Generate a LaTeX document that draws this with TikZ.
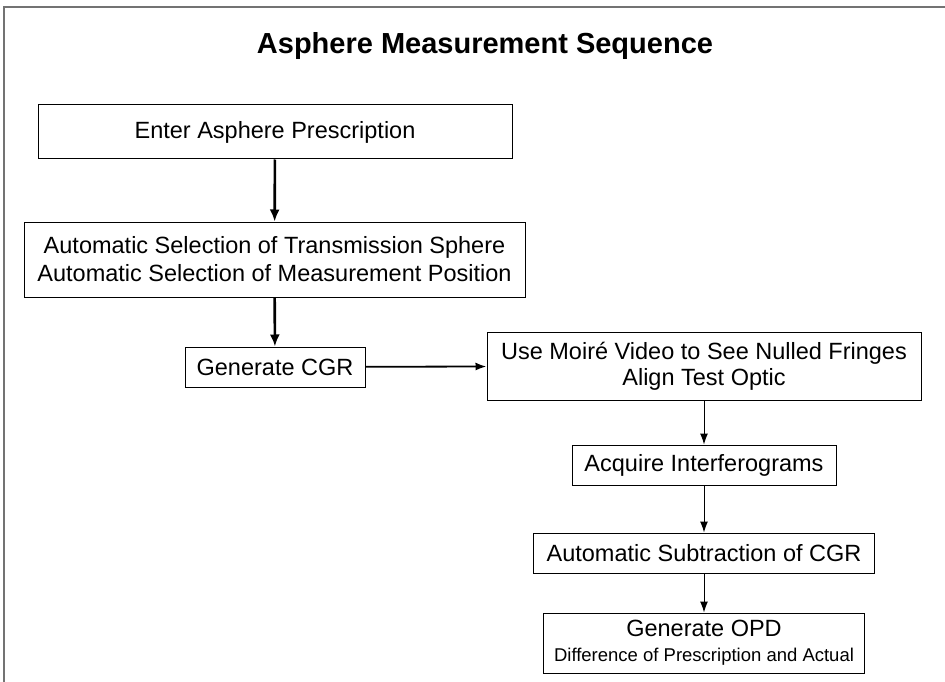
\documentclass[tikz,border=0pt]{standalone}
\usepackage{fontspec}
\setmainfont{Liberation Sans}
\usepackage{tikz}
\usetikzlibrary{arrows,arrows.meta}
\usetikzlibrary{positioning}
\definecolor{framegray}{rgb}{0.45, 0.45, 0.45}

\tikzset{
  stepbox/.style={draw, line width=1pt, align=center, inner sep=0pt, font=\fontsize{23.5}{28}\selectfont},
  flow/.style={-{Latex[length=11pt, width=8pt]}, line width=1pt},
  boldflow/.style={-{Latex[length=12pt, width=10pt]}, line width=2.6pt}
}

\begin{document}
\begin{tikzpicture}[x=1pt, y=-1pt]
            \useasboundingbox (0,0) rectangle (945,682);
            \draw [framegray, line width=2pt] (4,682) -- (4,7) -- (945,7);
            \node (title) at (485,46) {\fontsize{29}{32}\selectfont\bfseries Asphere Measurement Sequence};
            \node [stepbox, minimum width=474, minimum height=54] (enter) at (275,132) {Enter Asphere Prescription};
            \node [stepbox, minimum width=501, minimum height=75] (select) at (274.5,259.5) {Automatic Selection of Transmission Sphere\\Automatic Selection of Measurement Position};
            \node [stepbox, minimum width=180, minimum height=40] (cgr) at (275,367) {Generate CGR};
            \node [stepbox, minimum width=434, minimum height=68, font=\fontsize{23.5}{26}\selectfont] (moire) at (704,366) {Use Moiré Video to See Nulled Fringes\\Align Test Optic};
            \node [stepbox, minimum width=264, minimum height=40] (acquire) at (704,465) {Acquire Interferograms};
            \node [stepbox, minimum width=341, minimum height=40] (subtract) at (704,553) {Automatic Subtraction of CGR};
            \node [stepbox, minimum width=321, minimum height=60] (opd) at (704,643) {Generate OPD\\[-3pt]{\fontsize{18.5}{20}\selectfont Difference of Prescription and Actual}};
            \draw [boldflow] (enter) -- (select);
            \draw [boldflow] (select) -- (cgr);
            \draw [flow, line width=1.8pt] (cgr) -- (moire);
            \draw [flow] (moire) -- (acquire);
            \draw [flow] (acquire) -- (subtract);
            \draw [flow] (subtract) -- (opd);
        \end{tikzpicture}
\end{document}
